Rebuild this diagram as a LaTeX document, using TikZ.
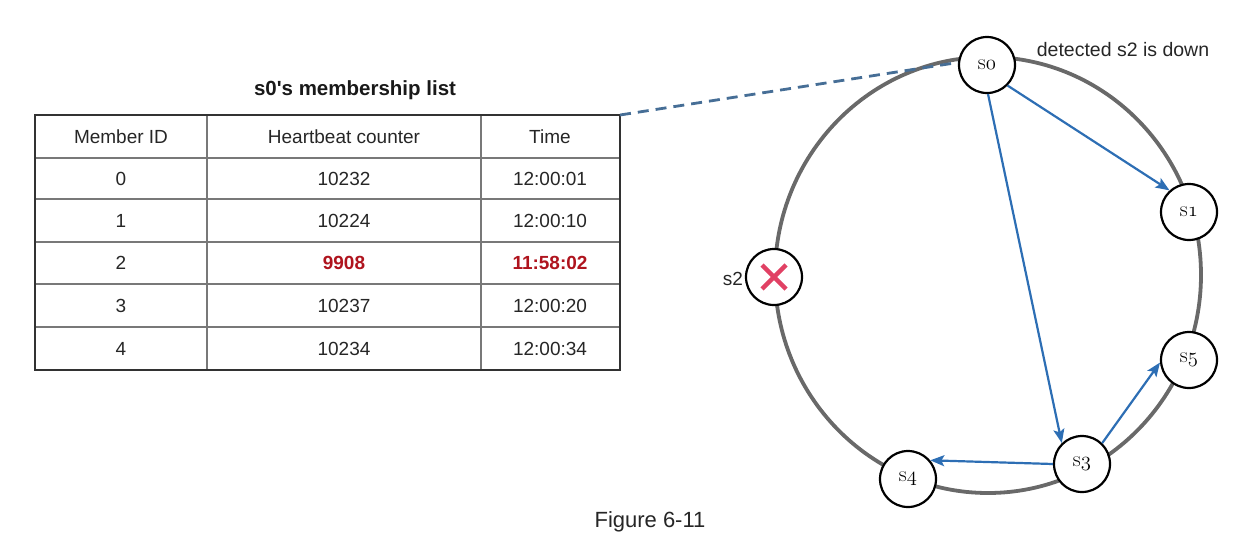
\documentclass[tikz,border=0pt]{standalone}
\usepackage{fontspec}
\newfontfamily\arial{Liberation Sans}
\usetikzlibrary{arrows.meta}
\definecolor{ringgray}{RGB}{105,105,105}
\definecolor{arrowblue}{RGB}{45,110,180}
\definecolor{dashblue}{RGB}{70,110,150}
\definecolor{xred}{RGB}{225,65,100}
\definecolor{darkred}{RGB}{175,20,30}
\definecolor{tgrid}{RGB}{120,120,120}
\definecolor{tborder}{RGB}{50,50,50}
\begin{document}
\begin{tikzpicture}[x=1pt,y=-1pt,
  srv/.style={circle,draw=black,line width=2.2pt,fill=white,minimum size=56pt,inner sep=0pt,
    font=\fontsize{22}{24}\selectfont\rmfamily},
  flow/.style={draw=arrowblue,line width=2.2pt,-{Stealth[length=14pt,width=11pt,inset=3pt]}},
  cell/.style={font=\arial\fontsize{19}{22}\selectfont,text=black!85},
  hot/.style={font=\arial\bfseries\fontsize{19}{22}\selectfont,text=darkred},
  plain/.style={font=\arial\fontsize{19.5}{22}\selectfont,text=black!85},
  ringline/.style={draw=ringgray,line width=3.8pt},
  linkline/.style={draw=dashblue,line width=2.8pt,dash pattern=on 11pt off 7pt},
  xmark/.style={draw=xred,line width=4.5pt}
]
\useasboundingbox (0,0) rectangle (1250,550);

% ---------- table ----------
\node[font=\arial\bfseries\fontsize{20.5}{24}\selectfont,text=black!90] (title) at (355,90) {s0's membership list};
\draw[tgrid,line width=1.4pt] (35,158) -- (620,158);
\draw[tgrid,line width=1.4pt] (35,199) -- (620,199);
\draw[tgrid,line width=1.4pt] (35,242) -- (620,242);
\draw[tgrid,line width=1.4pt] (35,284) -- (620,284);
\draw[tgrid,line width=1.4pt] (35,327) -- (620,327);
\draw[tgrid,line width=1.2pt] (207,115) -- (207,370);
\draw[tgrid,line width=1.2pt] (481,115) -- (481,370);
\draw[tborder,line width=1.8pt] (35,115) rectangle (620,370);
\coordinate (tblNE) at (620,115);

\node[cell] (h1) at (121,136.5) {Member ID};
\node[cell] (h2) at (344,136.5) {Heartbeat counter};
\node[cell] (h3) at (550,136.5) {Time};

\node[cell] (a1) at (121,178.5) {0};
\node[cell] (a2) at (344,178.5) {10232};
\node[cell] (a3) at (550,178.5) {12:00:01};

\node[cell] (b1) at (121,220.5) {1};
\node[cell] (b2) at (344,220.5) {10224};
\node[cell] (b3) at (550,220.5) {12:00:10};

\node[cell] (c1) at (121,263) {2};
\node[hot] (c2) at (344,263) {9908};
\node[hot] (c3) at (550,263) {11:58:02};

\node[cell] (d1) at (121,305.5) {3};
\node[cell] (d2) at (344,305.5) {10237};
\node[cell] (d3) at (550,305.5) {12:00:20};

\node[cell] (e1) at (121,348.5) {4};
\node[cell] (e2) at (344,348.5) {10234};
\node[cell] (e3) at (550,348.5) {12:00:34};

% ---------- ring ----------
\draw[ringline] (988,275) ellipse [x radius=213, y radius=218];

\node[srv] (s0) at (987,65) {s$\mathnormal{0}$};
\node[srv] (s1) at (1189,212) {s$\mathnormal{1}$};
\node[srv] (s5) at (1189,360) {s$\mathnormal{5}$};
\node[srv] (s3) at (1082,464) {s$\mathnormal{3}$};
\node[srv] (s4) at (908,479) {s$\mathnormal{4}$};
\node[srv] (s2) at (774,277) {};
\draw[xmark] ([shift={(-12,-12)}]s2.center) -- ([shift={(12,12)}]s2.center);
\draw[xmark] ([shift={(-12,12)}]s2.center) -- ([shift={(12,-12)}]s2.center);

\draw[linkline] (tblNE) -- (s0.175);

\draw[flow] (s0.-45) -- (s1.132);
\draw[flow] (s0.-88) -- (s3.134);
\draw[flow] (s3.180) -- (s4.40);
\draw[flow] (s3.46) -- (s5.185);

% ---------- labels ----------
\node[plain,font=\arial\fontsize{19}{21}\selectfont] (s2lbl) at (733,279) {s2};
\node[plain] (note) at (1123,50) {detected s2 is down};
\node[plain,font=\arial\fontsize{22}{26}\selectfont] (cap) at (650,522) {Figure 6-11};
\end{tikzpicture}
\end{document}
